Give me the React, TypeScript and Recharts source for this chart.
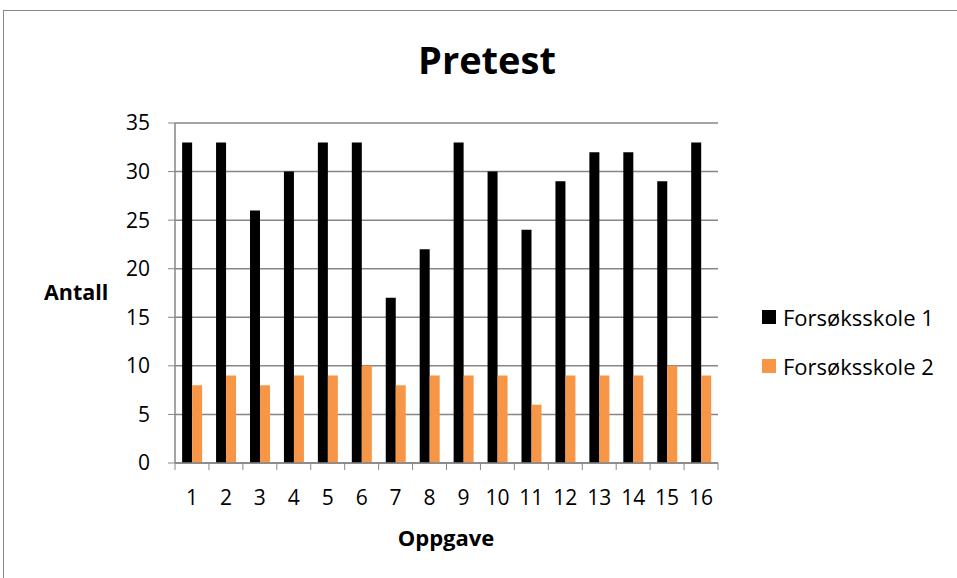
import { BarChart, Bar, XAxis, YAxis, CartesianGrid } from 'recharts'

const oppgaver = ['1', '2', '3', '4', '5', '6', '7', '8', '9', '10', '11', '12', '13', '14', '15', '16']
const skole1 = [33, 33, 26, 30, 33, 33, 17, 22, 33, 30, 24, 29, 32, 32, 29, 33]
const skole2 = [8, 9, 8, 9, 9, 10, 8, 9, 9, 9, 6, 9, 9, 9, 10, 9]
const yTicks = [0, 5, 10, 15, 20, 25, 30, 35]

const data = oppgaver.map((o, i) => ({ oppgave: o, s1: skole1[i], s2: skole2[i] }))

const FONT = '"Open Sans", Lato, sans-serif'
const BLACK = '#000000'
const ORANGE = '#F79646'
const GRID = '#868686'

// plot area in page pixels
const PLOT_L = 175
const PLOT_R = 718
const PLOT_T = 123
const PLOT_B = 463
const BAND = (PLOT_R - PLOT_L) / oppgaver.length

// x ticks sit on the category boundaries like Excel does
const XTick = ({ x, y, payload, index }: any) => (
  <g>
    <line x1={x - BAND / 2} x2={x - BAND / 2} y1={y - 8} y2={y - 1} stroke={GRID} />
    {index === oppgaver.length - 1 && (
      <line x1={x + BAND / 2} x2={x + BAND / 2} y1={y - 8} y2={y - 1} stroke={GRID} />
    )}
    <text x={x} y={y + 34} textAnchor="middle" fontSize={21} fontFamily={FONT} fill="#000">
      {payload.value}
    </text>
  </g>
)

const legendItems = [
  { c: BLACK, t: 'Forsøksskole 1' },
  { c: ORANGE, t: 'Forsøksskole 2' },
]

export default function App() {
  return (
    <div style={{ position: 'absolute', top: 0, left: 0, width: 957, height: 578, background: '#fff', overflow: 'hidden' }}>
      <div style={{ position: 'absolute', left: 3, top: 10, width: 1000, height: 700, borderTop: '1px solid #888', borderLeft: '1px solid #888' }} />
      <div style={{ position: 'absolute', left: 0, width: 974, top: 35, textAlign: 'center', fontFamily: FONT, fontWeight: 700, fontSize: 38, lineHeight: '48px' }}>
        Pretest
      </div>
      <div style={{ position: 'absolute', left: 44, top: 279, fontFamily: FONT, fontWeight: 700, fontSize: 21.5, lineHeight: '26px' }}>Antall</div>
      <div style={{ position: 'absolute', left: 0, width: 892, top: 524, textAlign: 'center', fontFamily: FONT, fontWeight: 700, fontSize: 22, lineHeight: '26px' }}>
        Oppgave
      </div>
      <div style={{ position: 'absolute', left: 762, top: 292, fontFamily: FONT, fontSize: 22, color: '#000' }}>
        {legendItems.map((it, i) => (
          <div key={i} style={{ display: 'flex', alignItems: 'center', height: 49 }}>
            <span style={{ width: 14, height: 14, background: it.c, marginRight: 7 }} />
            <span>{it.t}</span>
          </div>
        ))}
      </div>
      <div style={{ position: 'absolute', left: 0, top: 0 }}>
        <BarChart
          width={957}
          height={578}
          data={data}
          margin={{ top: PLOT_T, left: PLOT_L - 60, right: 957 - PLOT_R, bottom: 578 - PLOT_B - 30 }}
          barCategoryGap="21%"
          barGap={0}
        >
          <CartesianGrid vertical={false} stroke={GRID} strokeWidth={1.5} />
          <XAxis
            dataKey="oppgave"
            height={30}
            tick={<XTick />}
            tickLine={false}
            axisLine={{ stroke: GRID, strokeWidth: 1.5 }}
            interval={0}
          />
          <YAxis
            width={60}
            domain={[0, 35]}
            ticks={yTicks}
            tickSize={7}
            tickLine={{ stroke: GRID }}
            axisLine={{ stroke: GRID, strokeWidth: 1.5 }}
            tick={{ fontSize: 21, fontFamily: FONT, fill: '#000' }}
            tickMargin={18}
            interval={0}
          />
          <Bar dataKey="s1" name="Forsøksskole 1" fill={BLACK} isAnimationActive={false} />
          <Bar dataKey="s2" name="Forsøksskole 2" fill={ORANGE} isAnimationActive={false} />
        </BarChart>
      </div>
    </div>
  )
}
